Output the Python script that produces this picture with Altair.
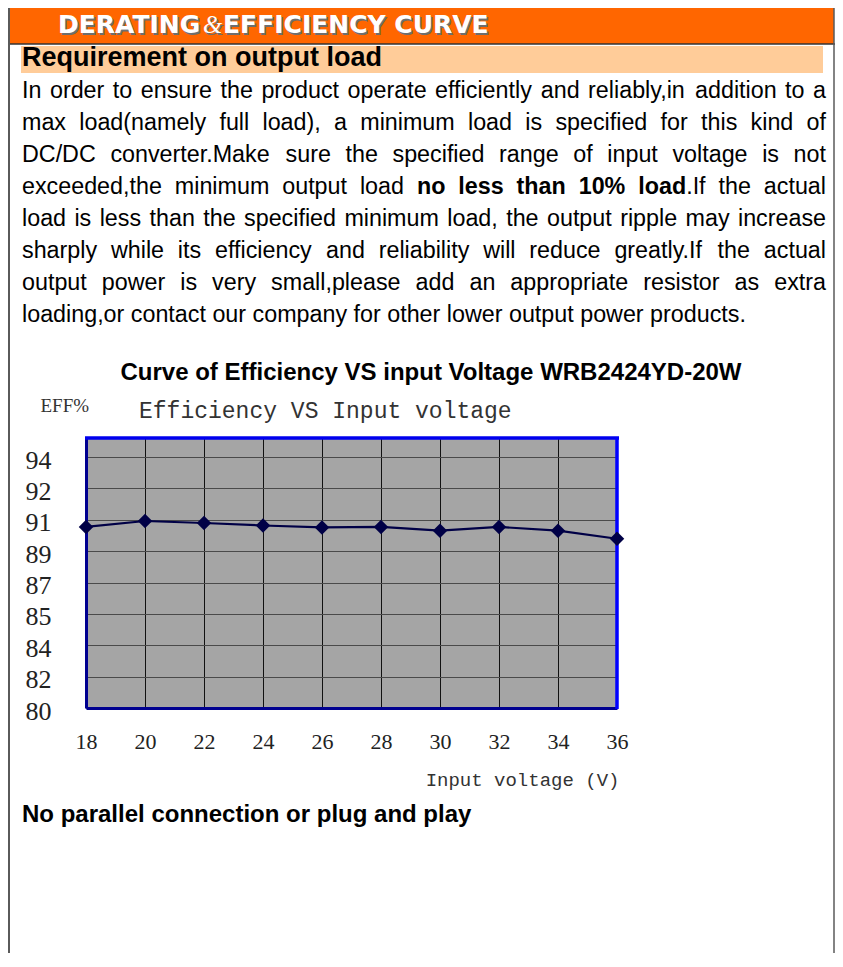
import json
import altair as alt
import pandas as pd

# ---------------- data ----------------
voltage = [18, 20, 22, 24, 26, 28, 30, 32, 34, 36]
efficiency = [90.10, 90.43, 90.32, 90.18, 90.07, 90.10, 89.89, 90.10, 89.89, 89.44]
x_ticks = [18, 20, 22, 24, 26, 28, 30, 32, 34, 36]
y_tick_values = [80, 81.75, 83.5, 85.25, 87, 88.75, 90.5, 92.25, 94]
y_tick_labels = ["80", "82", "84", "85", "87", "89", "91", "92", "94"]

header_parts = ["DERATING", "&", "EFFICIENCY CURVE"]
section_title = "Requirement on output load"
paragraph_lines = [
    [("In order to ensure the product operate efficiently and reliably,in addition to a", False)],
    [("max load(namely full load), a minimum load is specified for this kind of", False)],
    [("DC/DC converter.Make sure the specified range of input voltage is not", False)],
    [("exceeded,the minimum output load ", False), ("no less than 10% load", True), (".If the actual", False)],
    [("load is less than the specified minimum load, the output ripple may increase", False)],
    [("sharply while its efficiency and reliability will reduce greatly.If the actual", False)],
    [("output power is very small,please add an appropriate resistor as extra", False)],
    [("loading,or contact our company for other lower output power products.", False)],
]
chart_title = "Curve of Efficiency VS input Voltage WRB2424YD-20W"
chart_subtitle = "Efficiency VS Input voltage"
y_title = "EFF%"
x_title = "Input voltage (V)"
footer_title = "No parallel connection or plug and play"

# ---------------- layout helpers ----------------
W, H = 531, 270  # plot area
PAD = {"left": 78, "top": 430, "right": 218, "bottom": 245}
OX, OY = 86, 438  # page position of plot origin
PAGE_R = 8 + PAD["left"] + W + PAD["right"]  # right edge of the drawing on the page
PAGE_B = 8 + PAD["top"] + H + PAD["bottom"]


def px(page_x):
    return page_x - OX


def py(page_y):
    return page_y - OY


# Arial / Liberation Sans advance widths (1/1000 em)
_REG = dict(zip(" !\"#$%&'()*+,-./:;<=>?@", [278, 278, 355, 556, 556, 889, 667, 191, 333, 333, 389, 584, 278, 333, 278, 278, 278, 278, 584, 584, 584, 556, 1015]))
_REG.update(dict(zip("ABCDEFGHIJKLMNOPQRSTUVWXYZ", [667, 667, 722, 722, 667, 611, 778, 722, 278, 500, 667, 556, 833, 722, 778, 667, 778, 722, 667, 611, 722, 667, 944, 667, 667, 611])))
_REG.update(dict(zip("abcdefghijklmnopqrstuvwxyz", [556, 556, 500, 556, 556, 278, 556, 556, 222, 222, 500, 222, 833, 556, 556, 556, 556, 333, 500, 278, 556, 500, 722, 500, 500, 500])))
_BOLD = dict(zip(" !\"#$%&'()*+,-./:;<=>?@", [278, 333, 474, 556, 556, 889, 722, 238, 333, 333, 389, 584, 278, 333, 278, 278, 333, 333, 584, 584, 584, 611, 975]))
_BOLD.update(dict(zip("ABCDEFGHIJKLMNOPQRSTUVWXYZ", [722, 722, 722, 722, 667, 611, 778, 722, 278, 556, 722, 611, 833, 722, 778, 667, 778, 722, 667, 611, 722, 667, 944, 667, 667, 611])))
_BOLD.update(dict(zip("abcdefghijklmnopqrstuvwxyz", [556, 611, 556, 611, 556, 333, 611, 611, 278, 278, 556, 278, 889, 611, 611, 611, 611, 389, 556, 333, 611, 556, 778, 556, 556, 500])))

PARA_FS = 23.3


def text_w(t, bold):
    table = _BOLD if bold else _REG
    return sum(table.get(c, 556) for c in t) / 1000.0 * PARA_FS


def line_words(segments):
    words, cur = [], []
    for text, bold in segments:
        for ch in text:
            if ch == " ":
                if cur:
                    words.append(cur)
                    cur = []
            else:
                if cur and cur[-1][1] == bold:
                    cur[-1] = (cur[-1][0] + ch, bold)
                else:
                    cur.append((ch, bold))
    if cur:
        words.append(cur)
    return words


para_left, para_right = px(22), px(826)
rows = []
for i, segs in enumerate(paragraph_lines):
    words = line_words(segs)
    widths = [sum(text_w(t, b) for t, b in w) for w in words]
    y = py(98 + 32 * i)
    if i == len(paragraph_lines) - 1:
        gap = text_w(" ", False)
    else:
        gap = (para_right - para_left - sum(widths)) / (len(words) - 1)
    x = para_left
    for w, wd in zip(words, widths):
        xx = x
        for t, b in w:
            rows.append({"px": xx, "py": y, "txt": t, "bold": b})
            xx += text_w(t, b)
        x += wd + gap

para_df = pd.DataFrame(rows)
dummy = pd.DataFrame({"k": [0]})


def para_layer(bold):
    d = para_df[para_df["bold"] == bold][["px", "py", "txt"]]
    return alt.Chart(d).mark_text(
        align="left", baseline="alphabetic", font="Liberation Sans",
        fontSize=PARA_FS, fontWeight="bold" if bold else "normal", color="#000000",
    ).encode(
        x=alt.X("px:Q", scale=None, axis=None),
        y=alt.Y("py:Q", scale=None, axis=None),
        text="txt:N",
    )


def text_at(t, x, y, **kw):
    return alt.Chart(dummy).mark_text(text=t, **kw).encode(x=alt.value(x), y=alt.value(y))


def rect_at(x1, x2, y1, y2, color):
    return alt.Chart(dummy).mark_rect(color=color).encode(
        x=alt.value(x1), x2=alt.value(x2), y=alt.value(y1), y2=alt.value(y2))


def hrule(x1, x2, y, color, w):
    return alt.Chart(dummy).mark_rule(color=color, strokeWidth=w).encode(
        x=alt.value(x1), x2=alt.value(x2), y=alt.value(y))


def vrule(x, y1, y2, color, w):
    return alt.Chart(dummy).mark_rule(color=color, strokeWidth=w).encode(
        x=alt.value(x), y=alt.value(y1), y2=alt.value(y2))


# ---------------- page decorations ----------------
right_line = PAGE_R - 1
layers = []
layers.append(rect_at(px(6), px(right_line), py(8), py(44), "#FF6600"))
layers.append(hrule(px(6), px(PAGE_R), py(44), "#333333", 1.5))
layers.append(vrule(px(9), py(8), py(PAGE_B), "#5a5a5a", 2))
layers.append(vrule(px(right_line), py(8), py(PAGE_B), "#5a5a5a", 1.5))
layers.append(rect_at(px(21), px(823), py(46), py(73), "#FFCC99"))

hb = py(33)
hdr_kw = dict(align="left", baseline="alphabetic", fontSize=25, fontWeight="bold", font="DejaVu Sans")
amp_kw = dict(align="left", baseline="alphabetic", fontSize=25, fontStyle="italic", font="Liberation Serif")
for (t, x, kw) in [(header_parts[0], px(58), hdr_kw), (header_parts[1], px(203), amp_kw),
                   (header_parts[2], px(223), hdr_kw)]:
    layers.append(text_at(t, x, hb, color="#6e6e6e", dx=1.5, dy=1.5, **kw))
    layers.append(text_at(t, x, hb, color="#FFFFFF", **kw))

layers.append(text_at(section_title, px(22), py(66), align="left", baseline="alphabetic",
                      font="Liberation Sans", fontSize=27, fontWeight="bold", color="#000000"))
layers.append(para_layer(False))
layers.append(para_layer(True))
layers.append(text_at(chart_title, px(431), py(380), align="center", baseline="alphabetic",
                      font="Liberation Sans", fontSize=24, fontWeight="bold", color="#000000"))
layers.append(text_at(chart_subtitle, px(139), py(418), align="left", baseline="alphabetic",
                      font="Liberation Mono", fontSize=23, color="#333333"))
layers.append(text_at(footer_title, px(22), py(822), align="left", baseline="alphabetic",
                      font="Liberation Sans", fontSize=24, fontWeight="bold", color="#000000"))

# ---------------- efficiency plot ----------------
df = pd.DataFrame({"voltage": voltage, "efficiency": efficiency})
label_expr = f"{json.dumps(y_tick_labels)}[indexof({json.dumps(y_tick_values)}, datum.value)]"

base = alt.Chart(df).encode(
    x=alt.X("voltage:Q", scale=alt.Scale(domain=[18, 36], nice=False, zero=False),
            axis=alt.Axis(values=x_ticks, grid=True, gridColor="#111111", gridWidth=1, gridOpacity=1,
                          domainColor="#000090", domainWidth=3, ticks=False, tickSize=0,
                          labelFont="Liberation Serif", labelFontSize=22, labelColor="#222222",
                          labelPadding=40, labelBaseline="alphabetic", labelFlush=False,
                          labelOverlap=False, title=x_title, titleFont="Liberation Mono",
                          titleFontSize=19, titleFontWeight="normal", titleColor="#333333",
                          titleX=533, titleY=77, titleAlign="right", titleBaseline="alphabetic")),
    y=alt.Y("efficiency:Q", scale=alt.Scale(domain=[80, 95.06], nice=False, zero=False),
            axis=alt.Axis(values=y_tick_values, labelExpr=label_expr, grid=True, gridColor="#4a4a4a",
                          gridWidth=1, gridOpacity=1, domainColor="#000090", domainWidth=3,
                          ticks=False, tickSize=0, labelFont="Liberation Serif", labelFontSize=26,
                          labelColor="#222222", labelAlign="left", labelPadding=61,
                          labelBaseline="middle", labelOffset=3, labelFlush=False, labelOverlap=False,
                          title=y_title, titleAngle=0, titleX=-46, titleY=-27, titleAlign="left",
                          titleBaseline="alphabetic", titleFont="Liberation Serif", titleFontSize=19,
                          titleFontWeight="normal", titleColor="#333333")),
)

layers.append(hrule(-1, W + 2, 0, "#0000EE", 3.5))
layers.append(vrule(W, -1, H + 1, "#0000FF", 3.5))
layers.append(base.mark_line(color="#000046", strokeWidth=2.2))
layers.append(base.mark_point(shape="diamond", filled=True, size=210, color="#000046", opacity=1))

chart = alt.layer(*layers).properties(
    width=W, height=H,
    autosize=alt.AutoSizeParams(type="none"),
    padding=PAD,
    background="#FFFFFF",
).configure_view(fill="#A5A5A5", stroke="transparent")

chart.save("out.html", embed_options={"renderer": "svg", "actions": False})
